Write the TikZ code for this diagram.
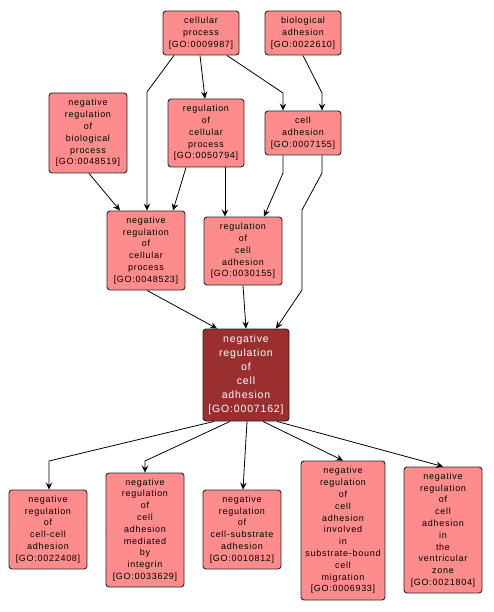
\documentclass[tikz,border=0pt]{standalone}
\usepackage{fontspec}
\newfontfamily\lbl[LetterSpace=8]{Liberation Sans}
\usetikzlibrary{arrows.meta}
\definecolor{lightred}{HTML}{FF8C8C}
\definecolor{darkred}{HTML}{9B2F2F}
\begin{document}
\begin{tikzpicture}[x=1pt,y=-1pt,
  term/.style={draw=black!85, line width=0.9pt, rounded corners=3pt, fill=lightred,
    align=center, inner sep=0pt, font=\lbl\fontsize{9}{11.8}\selectfont, text=black},
  focus/.style={term, fill=darkred, text=white, font=\lbl\fontsize{10.5}{14.1}\selectfont},
  edge/.style={draw=black, line width=0.8pt, -{Stealth[length=7pt,width=6.5pt,inset=2.5pt]}}]
\useasboundingbox (0,0) rectangle (493,612);
\node[term, minimum width=76pt, minimum height=44pt] (cp) at (201,33) {cellular\\process\\{[GO:0009987]}};
\node[term, minimum width=76pt, minimum height=44pt] (ba) at (303,33) {biological\\adhesion\\{[GO:0022610]}};
\node[term, minimum width=78pt, minimum height=80pt] (nrbp) at (88,133) {negative\\regulation\\of\\biological\\process\\{[GO:0048519]}};
\node[term, minimum width=76pt, minimum height=68pt] (rcp) at (206,133) {regulation\\of\\cellular\\process\\{[GO:0050794]}};
\node[term, minimum width=76pt, minimum height=44pt] (ca) at (303,133) {cell\\adhesion\\{[GO:0007155]}};
\node[term, minimum width=78pt, minimum height=79pt] (nrcp) at (146,250.5) {negative\\regulation\\of\\cellular\\process\\{[GO:0048523]}};
\node[term, minimum width=78pt, minimum height=68pt] (rca) at (243,251) {regulation\\of\\cell\\adhesion\\{[GO:0030155]}};
\node[focus, minimum width=86pt, minimum height=92pt] (central) at (246,375) {negative\\regulation\\of\\cell\\adhesion\\{[GO:0007162]}};
\node[term, minimum width=78pt, minimum height=79pt] (b1) at (48,529.5) {negative\\regulation\\of\\cell-cell\\adhesion\\{[GO:0022408]}};
\node[term, minimum width=78pt, minimum height=114pt] (b2) at (145,530) {negative\\regulation\\of\\cell\\adhesion\\mediated\\by\\integrin\\{[GO:0033629]}};
\node[term, minimum width=78pt, minimum height=79pt] (b3) at (242,529.5) {negative\\regulation\\of\\cell-substrate\\adhesion\\{[GO:0010812]}};
\node[term, minimum width=84pt, minimum height=139pt] (b4) at (343,530.5) {negative\\regulation\\of\\cell\\adhesion\\involved\\in\\substrate-bound\\cell\\migration\\{[GO:0006933]}};
\node[term, minimum width=78pt, minimum height=126pt] (b5) at (443,530) {negative\\regulation\\of\\cell\\adhesion\\in\\the\\ventricular\\zone\\{[GO:0021804]}};
\draw[edge] ([xshift=-27pt]cp.south) -- (147,92) -- ([xshift=1pt]nrcp.north);
\draw[edge] ([xshift=-1pt]cp.south) -- ([xshift=-1pt]rcp.north);
\draw[edge] ([xshift=26pt]cp.south) -- (283,93) -- ([xshift=-20pt]ca.north);
\draw[edge] ([xshift=0pt]ba.south) -- (322,93) -- ([xshift=19pt]ca.north);
\draw[edge] ([xshift=1pt]nrbp.south) -- ([xshift=-26pt]nrcp.north);
\draw[edge] ([xshift=-20pt]rcp.south) -- ([xshift=27pt]nrcp.north);
\draw[edge] ([xshift=19pt]rcp.south) -- ([xshift=-18pt]rca.north);
\draw[edge] ([xshift=-20pt]ca.south) -- (283,173) -- ([xshift=21pt]rca.north);
\draw[edge] ([xshift=19pt]ca.south) -- (322,173) -- (302,210) -- (302,290) -- ([xshift=30pt]central.north);
\draw[edge] ([xshift=1pt]nrcp.south) -- ([xshift=-29pt]central.north);
\draw[edge] (rca.south) -- (central.north);
\draw[edge] ([xshift=-32pt]central.south) -- (49,461) -- ([xshift=1pt]b1.north);
\draw[edge] ([xshift=-16pt]central.south) -- (145,461) -- (b2.north);
\draw[edge] ([xshift=1pt]central.south) -- ([xshift=1pt]b3.north);
\draw[edge] ([xshift=17pt]central.south) -- (b4.north);
\draw[edge] ([xshift=31pt]central.south) -- (b5.north);
\end{tikzpicture}
\end{document}
